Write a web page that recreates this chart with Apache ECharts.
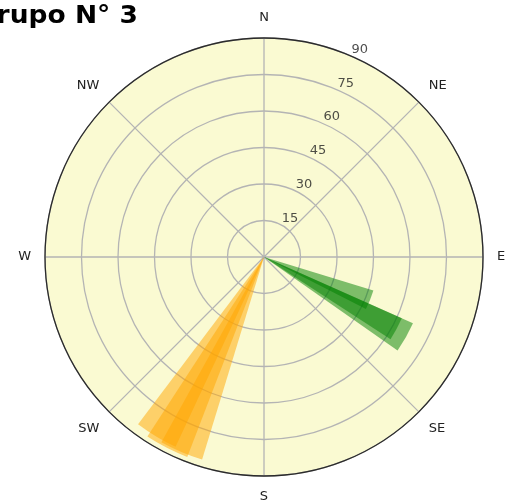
<!DOCTYPE html>
<html>
<head>
<meta charset="utf-8">
<script src="https://cdn.jsdelivr.net/npm/echarts@6/dist/echarts.min.js"></script>
<style>
html,body{margin:0;padding:0;background:#fff;}
#chart{width:513px;height:500px;}
</style>
</head>
<body>
<div id="chart"></div>
<script>
// ---- data ----
const titleText = 'Grupo N° 3';
const compassLabels = ['N', 'NE', 'E', 'SE', 'S', 'SW', 'W', 'NW'];
const radialTicks = [15, 30, 45, 60, 75, 90];
const radialMax = 90;
// green group: bearing (deg, clockwise from N), angular width (deg), length
const greenDir = [112, 118.5, 119.5];
const greenWidth = [10, 9, 11];
const greenLen = [47, 62, 67];
// orange group
const orangeDir = [203, 207, 211];
const orangeWidth = [12, 12, 12];
const orangeLen = [87, 88, 86];

const FONT = 'DejaVu Sans';

function rows(dirs, widths, lens) {
  return dirs.map((d, i) => [lens[i], d, widths[i]]);
}

function wedgeRenderer(fill) {
  return function (params, api) {
    const len = api.value(0), dir = api.value(1), w = api.value(2);
    const cs = params.coordSys;
    const cx = cs.cx, cy = cs.cy;
    const p1 = api.coord([len, dir - w / 2]);
    const p2 = api.coord([len, dir + w / 2]);
    const r = Math.hypot(p1[0] - cx, p1[1] - cy);
    const a1 = Math.atan2(p1[1] - cy, p1[0] - cx);
    const a2 = Math.atan2(p2[1] - cy, p2[0] - cx);
    return {
      type: 'sector',
      shape: { cx: cx, cy: cy, r0: 0, r: r, startAngle: a1, endAngle: a2, clockwise: true },
      style: { fill: fill, stroke: null }
    };
  };
}

function backgroundRenderer(params, api) {
  const cs = params.coordSys;
  const p = api.coord([api.value(0), 0]);
  const r = Math.hypot(p[0] - cs.cx, p[1] - cs.cy);
  return { type: 'circle', shape: { cx: cs.cx, cy: cs.cy, r: r }, style: { fill: '#fafad2', stroke: null } };
}

const chart = echarts.init(document.getElementById('chart'), null, { renderer: 'canvas' });
chart.setOption({
  animation: false,
  backgroundColor: '#ffffff',
  graphic: [{
    type: 'text',
    x: 138,
    y: 16,
    originX: 0, originY: 0,
    scaleX: 1.06,
    style: { text: titleText, font: 'bold 25px "DejaVu Sans"', fill: '#000', textAlign: 'right', textVerticalAlign: 'middle' }
  }],
  polar: { center: [264, 257], radius: 219 },
  angleAxis: {
    type: 'value',
    min: 0, max: 360, interval: 45,
    startAngle: 90, clockwise: true,
    axisLine: { show: true, lineStyle: { color: '#2b2b2b', width: 1.3 } },
    axisTick: { show: false },
    axisLabel: {
      margin: 14,
      fontFamily: FONT, fontSize: 13, color: '#222',
      formatter: v => (compassLabels[Math.round(v / 45)] || '')
    },
    splitLine: { show: true, lineStyle: { color: '#b4b4b4', width: 1.3 } }
  },
  radiusAxis: {
    type: 'value', min: 0, max: radialMax, interval: 15,
    axisLine: { show: false }, axisTick: { show: false }, axisLabel: { show: false },
    splitLine: { show: true, lineStyle: { color: '#b4b4b4', width: 1.3 } }
  },
  series: [
    {
      type: 'custom', coordinateSystem: 'polar', silent: true,
      dimensions: ['len', 'dir'], encode: { radius: 0, angle: 1 },
      renderItem: backgroundRenderer,
      data: [[radialMax, 0]], z: -5
    },
    {
      type: 'custom', coordinateSystem: 'polar',
      dimensions: ['len', 'dir', 'w'], encode: { radius: 0, angle: 1 },
      renderItem: wedgeRenderer('rgba(0,128,0,0.5)'),
      data: rows(greenDir, greenWidth, greenLen), z: 3
    },
    {
      type: 'custom', coordinateSystem: 'polar',
      dimensions: ['len', 'dir', 'w'], encode: { radius: 0, angle: 1 },
      renderItem: wedgeRenderer('rgba(255,165,0,0.5)'),
      data: rows(orangeDir, orangeWidth, orangeLen), z: 3
    },
    {
      type: 'scatter', coordinateSystem: 'polar',
      symbolSize: 0, silent: true, z: 5,
      data: radialTicks.map(t => [t, 22.5]),
      label: {
        show: true, position: 'inside', offset: [12, -5],
        fontFamily: FONT, fontSize: 13, color: '#222',
        formatter: p => String(p.value[0])
      }
    }
  ]
});
</script>
</body>
</html>
